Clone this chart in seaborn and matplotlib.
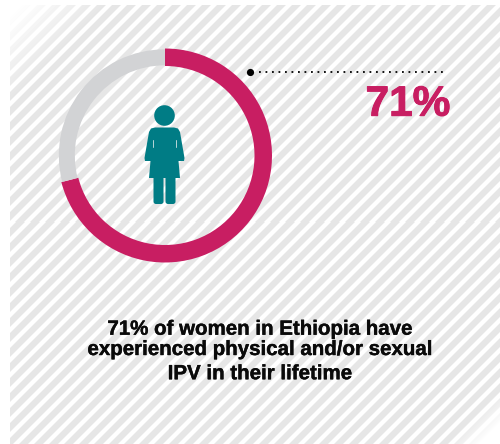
import numpy as np
import matplotlib
matplotlib.use("Agg")
import matplotlib.pyplot as plt
import matplotlib.patheffects as pe
from matplotlib.patches import Circle, Polygon, FancyBboxPatch
import seaborn as sns

# Survey figures
shares = [71, 29]
share_labels = ["Experienced IPV", "Did not"]
headline = "71%"
caption = ["71% of women in Ethiopia have",
           "experienced physical and/or sexual",
           "IPV in their lifetime"]
ring_colours = ["#c81e62", "#d2d3d5"]
teal = "#007c85"

sns.set_theme(style="white")
plt.rcParams["font.family"] = ["Liberation Sans", "DejaVu Sans"]

W, H = 500, 444
fig = plt.figure(figsize=(W / 100, H / 100), dpi=100, facecolor="white")
ax = fig.add_axes([0, 0, 1, 1])

# Hatched backdrop whose stripes fade out towards two opposite corners
yy, xx = np.mgrid[0:H, 0:W] + 0.5
period = 15.0
phase = ((xx + yy - 2.5) % period) / period
stripe = np.clip((np.abs(phase - 0.5) - 0.2) * period / 1.2 + 0.5, 0, 1)
fade_tl = np.clip((xx + yy - 25) / 85, 0, 1)
fade_br = np.clip((925 - xx - yy) / 35, 0, 1)
shade = 1 - (1 - 0.902) * stripe * fade_tl * fade_br
shade[(xx < 10) | (yy < 6)] = 1.0
ax.imshow(shade, extent=(0, W, 0, H), origin="upper", cmap="gray",
          vmin=0, vmax=1, zorder=0, interpolation="nearest")

# Ring: the highlighted share runs clockwise from twelve o'clock
wedges, _ = ax.pie(shares, colors=ring_colours, startangle=90, counterclock=False,
                   center=(165, H - 155.5), radius=107, frame=True,
                   wedgeprops=dict(width=17.5, linewidth=0))
# The grey remainder sits slightly inside the coloured arc
wedges[1].set_radius(106.2)
wedges[1].set_width(16)


def up(y):
    return H - y


# Woman pictogram
ax.add_patch(Circle((164.5, up(115.5)), 10.3, color=teal, lw=0, zorder=3))
body = [(155, 127.5), (174, 127.5), (178, 128.5), (180, 132), (184.5, 158), (184, 161),
        (178.5, 161), (180, 178), (149, 178), (150.5, 161), (145, 161), (144.5, 158),
        (149, 132), (151, 128.5)]
ax.add_patch(Polygon([(x, up(y)) for x, y in body], closed=True, color=teal, lw=0, zorder=3))
for left in (153.5, 165.5):
    ax.add_patch(FancyBboxPatch((left + 2.5, up(204) + 2.5), 5, 32,
                                boxstyle="round,pad=2.5", color=teal, lw=0, zorder=3))
# Slits separating the arms from the torso
for slit in (152.8, 176.0):
    ax.plot([slit, slit], [up(140), up(147)], color="#b9d6d8", lw=0.7, zorder=4)

# Leader from the ring to the headline value
ax.plot([249.7], [up(71.8)], "o", color="black", ms=5.2, mew=0, zorder=4)
ax.plot([259, 445], [up(71.8), up(71.8)], color="black", lw=1.3,
        ls=(0, (1, 2.6)), zorder=4)
ax.text(450.3, up(115.7), headline, color=ring_colours[0], fontsize=30.5, fontweight="bold",
        ha="right", va="baseline", zorder=4,
        path_effects=[pe.withStroke(linewidth=0.7, foreground=ring_colours[0])])

# Caption, with the uneven leading of its three lines
for line, base in zip(caption, (334.7, 355, 379.2)):
    ax.text(260, up(base), line, color="#0a0a0a", fontsize=14.75, fontweight="bold",
            ha="center", va="baseline", zorder=4,
            path_effects=[pe.withStroke(linewidth=0.3, foreground="#0a0a0a")])

ax.set_xlim(0, W)
ax.set_ylim(0, H)
ax.set_aspect("auto")
ax.axis("off")
fig.savefig("out.png", dpi=100, facecolor="white")
